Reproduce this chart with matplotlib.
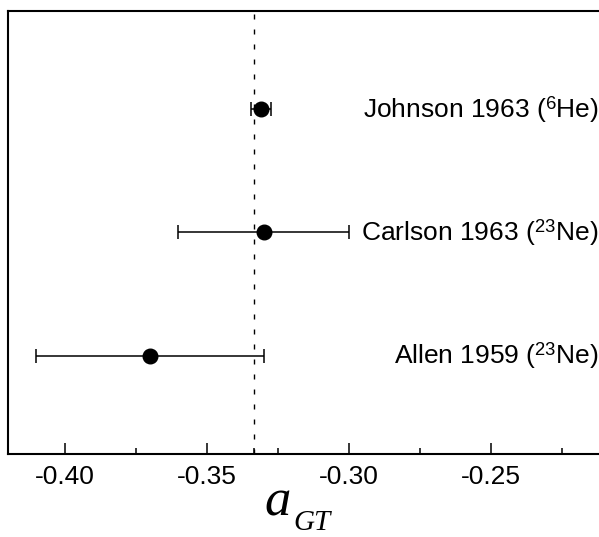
import matplotlib
matplotlib.use("Agg")
import matplotlib.pyplot as plt
from matplotlib.ticker import FixedLocator, FixedFormatter

plt.rcParams['font.family'] = ['Liberation Sans', 'DejaVu Sans']
plt.rcParams['mathtext.fontset'] = 'custom'
plt.rcParams['mathtext.rm'] = 'Liberation Sans'
plt.rcParams['mathtext.it'] = 'Liberation Serif:italic'
plt.rcParams['axes.unicode_minus'] = False

# Measurements of a_GT
labels = [r'Johnson 1963 ($^{\mathrm{6}}$He)',
          r'Carlson 1963 ($^{\mathrm{23}}$Ne)',
          r'Allen 1959 ($^{\mathrm{23}}$Ne)']
values = [-0.3308, -0.330, -0.370]
errors = [0.0035, 0.030, 0.040]
rows = [3, 2, 1]
ref_value = -1.0 / 3.0

major_ticks = [-0.40, -0.35, -0.30, -0.25]
major_labels = ['-0.40', '-0.35', '-0.30', '-0.25']
minor_ticks = [-0.375, -0.325, -0.275, -0.225, ref_value]

fig = plt.figure(figsize=(5.99, 5.37), dpi=100)
ax = fig.add_axes([8 / 599, 83 / 537, 596.4 / 599, 443 / 537])

ax.axvline(ref_value, color='black', lw=1.0, dashes=(3.6, 7.2))
ax.errorbar(values, rows, xerr=errors, fmt='o', color='black',
            ms=10.5, elinewidth=1.1, capsize=5, capthick=1.1)

for lab, r in zip(labels, rows):
    ax.text(0.99, r, lab, transform=ax.get_yaxis_transform(),
            ha='right', va='center', fontsize=19)

ax.set_xlim(-0.42, -0.21)
ax.set_ylim(0.2, 3.8)
ax.xaxis.set_major_locator(FixedLocator(major_ticks))
ax.xaxis.set_major_formatter(FixedFormatter(major_labels))
ax.xaxis.set_minor_locator(FixedLocator(minor_ticks))
ax.tick_params(axis='x', which='major', direction='in', length=8, width=1.1,
               labelsize=19, pad=8)
ax.tick_params(axis='x', which='minor', direction='in', length=4, width=1.1)
ax.set_yticks([])
for s in ax.spines.values():
    s.set_linewidth(1.5)

# x label: italic "a" with a lowered, smaller "GT"
fig.text(264 / 599, 1 - 516 / 537, 'a', family='Liberation Serif',
         style='italic', fontsize=38, ha='left', va='baseline')
fig.text(293 / 599, 1 - 530 / 537, 'GT', family='Liberation Serif',
         style='italic', fontsize=21, ha='left', va='baseline')

fig.savefig('out.png', dpi=100)
